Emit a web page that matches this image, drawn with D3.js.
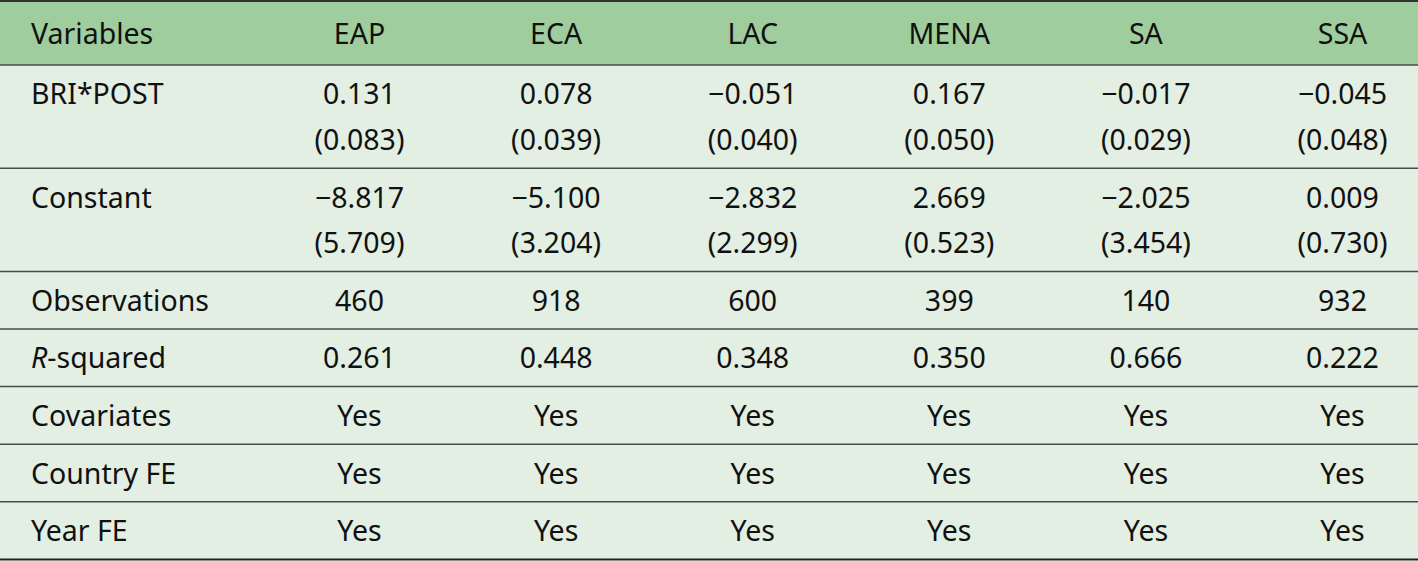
<!DOCTYPE html>
<html><head><meta charset="utf-8">
<script src="https://cdn.jsdelivr.net/npm/d3@7"></script>
<style>
html,body{margin:0;padding:0;background:#fff;}
svg{display:block;}
text{font-family:"Noto Sans",sans-serif;fill:#111;}
</style></head><body>
<div id="chart"></div>
<script>
const regions = ["EAP","ECA","LAC","MENA","SA","SSA"];
const headerLabel = "Variables";
const rowLabels = ["BRI*POST","Constant","Observations","R-squared","Covariates","Country FE","Year FE"];
const coefBRI = ["0.131","0.078","−0.051","0.167","−0.017","−0.045"];
const seBRI = ["(0.083)","(0.039)","(0.040)","(0.050)","(0.029)","(0.048)"];
const coefConst = ["−8.817","−5.100","−2.832","2.669","−2.025","0.009"];
const seConst = ["(5.709)","(3.204)","(2.299)","(0.523)","(3.454)","(0.730)"];
const observations = ["460","918","600","399","140","932"];
const rSquared = ["0.261","0.448","0.348","0.350","0.666","0.222"];
const covariates = ["Yes","Yes","Yes","Yes","Yes","Yes"];
const countryFE = ["Yes","Yes","Yes","Yes","Yes","Yes"];
const yearFE = ["Yes","Yes","Yes","Yes","Yes","Yes"];

const rows = [
  {label: rowLabels[0], lines: [coefBRI, seBRI]},
  {label: rowLabels[1], lines: [coefConst, seConst]},
  {label: rowLabels[2], lines: [observations]},
  {label: rowLabels[3], lines: [rSquared], italicR: true},
  {label: rowLabels[4], lines: [covariates]},
  {label: rowLabels[5], lines: [countryFE]},
  {label: rowLabels[6], lines: [yearFE]}
];

const W = 1418, H = 561;
const svg = d3.select("#chart").append("svg").attr("width", W).attr("height", H);

const fontSize = 28.5;
const headerTop = 2, headerH = 63;
const singleH = 57.6, extraLine = 45.6;

const x = d3.scalePoint().domain(regions).range([359.5, 1342.5]);
const labelX = 31;

let yAcc = headerTop + headerH;
rows.forEach(r => { r.y0 = yAcc; r.h = singleH + (r.lines.length - 1) * extraLine; yAcc += r.h; });
const bottom = yAcc;

svg.append("rect").attr("x",0).attr("y",0).attr("width",W).attr("height",headerTop+headerH).attr("fill","#9fcd9d");
svg.append("rect").attr("x",0).attr("y",headerTop+headerH).attr("width",W).attr("height",bottom-headerTop-headerH).attr("fill","#e3efe3");
svg.append("rect").attr("x",0).attr("y",bottom).attr("width",W).attr("height",H-bottom).attr("fill","#fff");

const hy = headerTop + headerH/2 + 1;
svg.append("text").attr("x",labelX).attr("y",hy).attr("dy","0.35em").attr("font-size",fontSize).text(headerLabel);
svg.selectAll("text.hdr").data(regions).join("text").attr("class","hdr")
  .attr("x",d=>x(d)).attr("y",hy).attr("dy","0.35em").attr("text-anchor","middle").attr("font-size",fontSize).text(d=>d);

const g = svg.selectAll("g.row").data(rows).join("g").attr("class","row");
g.each(function(r){
  const gg = d3.select(this);
  const y1 = r.y0 + 29.5;
  const lt = gg.append("text").attr("x",labelX).attr("y",y1).attr("dy","0.35em").attr("font-size",fontSize);
  if (r.italicR) {
    lt.append("tspan").attr("font-style","italic").text(r.label.slice(0,1));
    lt.append("tspan").text(r.label.slice(1));
  } else lt.text(r.label);
  r.lines.forEach((vals,li)=>{
    gg.selectAll("text.v"+li).data(vals).join("text").attr("class","v"+li)
      .attr("x",(d,i)=>x(regions[i])).attr("y",y1 + li*extraLine).attr("dy","0.35em")
      .attr("text-anchor","middle").attr("font-size",fontSize).text(d=>d);
  });
});

const lineCol = "#4a4a4a";
svg.append("line").attr("x1",0).attr("x2",W).attr("y1",1).attr("y2",1).attr("stroke","#333").attr("stroke-width",2);
svg.append("line").attr("x1",0).attr("x2",W).attr("y1",headerTop+headerH).attr("y2",headerTop+headerH).attr("stroke",lineCol).attr("stroke-width",1.6);
svg.selectAll("line.sep").data(rows.slice(0,-1)).join("line").attr("class","sep")
  .attr("x1",0).attr("x2",W).attr("y1",r=>r.y0+r.h).attr("y2",r=>r.y0+r.h).attr("stroke",lineCol).attr("stroke-width",1.5);
svg.append("line").attr("x1",0).attr("x2",W).attr("y1",bottom).attr("y2",bottom).attr("stroke","#222").attr("stroke-width",2);
</script></body></html>
